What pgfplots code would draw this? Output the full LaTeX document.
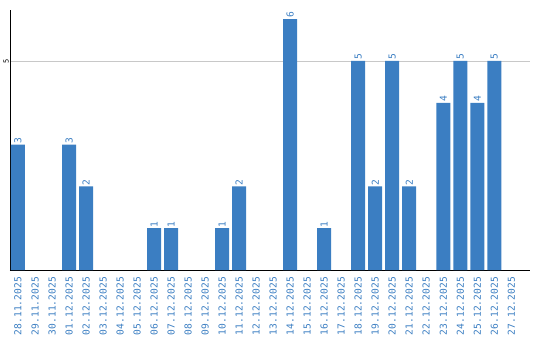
\documentclass[border=0pt]{standalone}
\usepackage{pgfplots}
\pgfplotsset{compat=1.18}
\usepackage{fontspec}
\setmainfont{DejaVu Sans Mono}
\definecolor{barblue}{HTML}{3B7EC2}
\definecolor{gridgray}{HTML}{C8C8C8}
\begin{document}
\begin{tikzpicture}[x=1pt,y=1pt]
\useasboundingbox (0,0) rectangle (540,340);
\begin{axis}[
  at={(10pt,70pt)}, anchor=south west,
  scale only axis, width=520pt, height=260pt,
  xmin=-0.47, xmax=30.1, ymin=0, ymax=6.22,
  axis lines*=left,
  axis line style={black, line width=0.8pt},
  xtick={0,...,29},
  xticklabels={28.11.2025,29.11.2025,30.11.2025,01.12.2025,02.12.2025,03.12.2025,04.12.2025,05.12.2025,06.12.2025,07.12.2025,08.12.2025,09.12.2025,10.12.2025,11.12.2025,12.12.2025,13.12.2025,14.12.2025,15.12.2025,16.12.2025,17.12.2025,18.12.2025,19.12.2025,20.12.2025,21.12.2025,22.12.2025,23.12.2025,24.12.2025,25.12.2025,26.12.2025,27.12.2025},
  xticklabel style={rotate=90, anchor=east, font=\fontsize{9.6}{10}\selectfont, text=barblue, inner sep=0pt, xshift=-1pt},
  xticklabel shift=6pt,
  ytick={5},
  yticklabel style={rotate=90, anchor=south, font=\fontsize{7}{8}\selectfont, inner sep=1pt},
  /pgf/number format/assume math mode=true,
  ymajorgrids, grid style={gridgray, line width=0.8pt},
  major tick length=0pt,
  tick style={draw=none},
  clip=false,
]
\addplot[ybar, bar width=14pt, fill=barblue, draw=none,
  nodes near coords, every node near coord/.append style={rotate=90, anchor=west, font=\fontsize{9.6}{10}\selectfont, text=barblue, inner sep=1pt}]
coordinates {
(0,3) (3,3) (4,2) (8,1) (9,1) (12,1) (13,2) (16,6) (18,1) (20,5) (21,2) (22,5) (23,2) (25,4) (26,5) (27,4) (28,5)
};
\end{axis}
\end{tikzpicture}
\end{document}
